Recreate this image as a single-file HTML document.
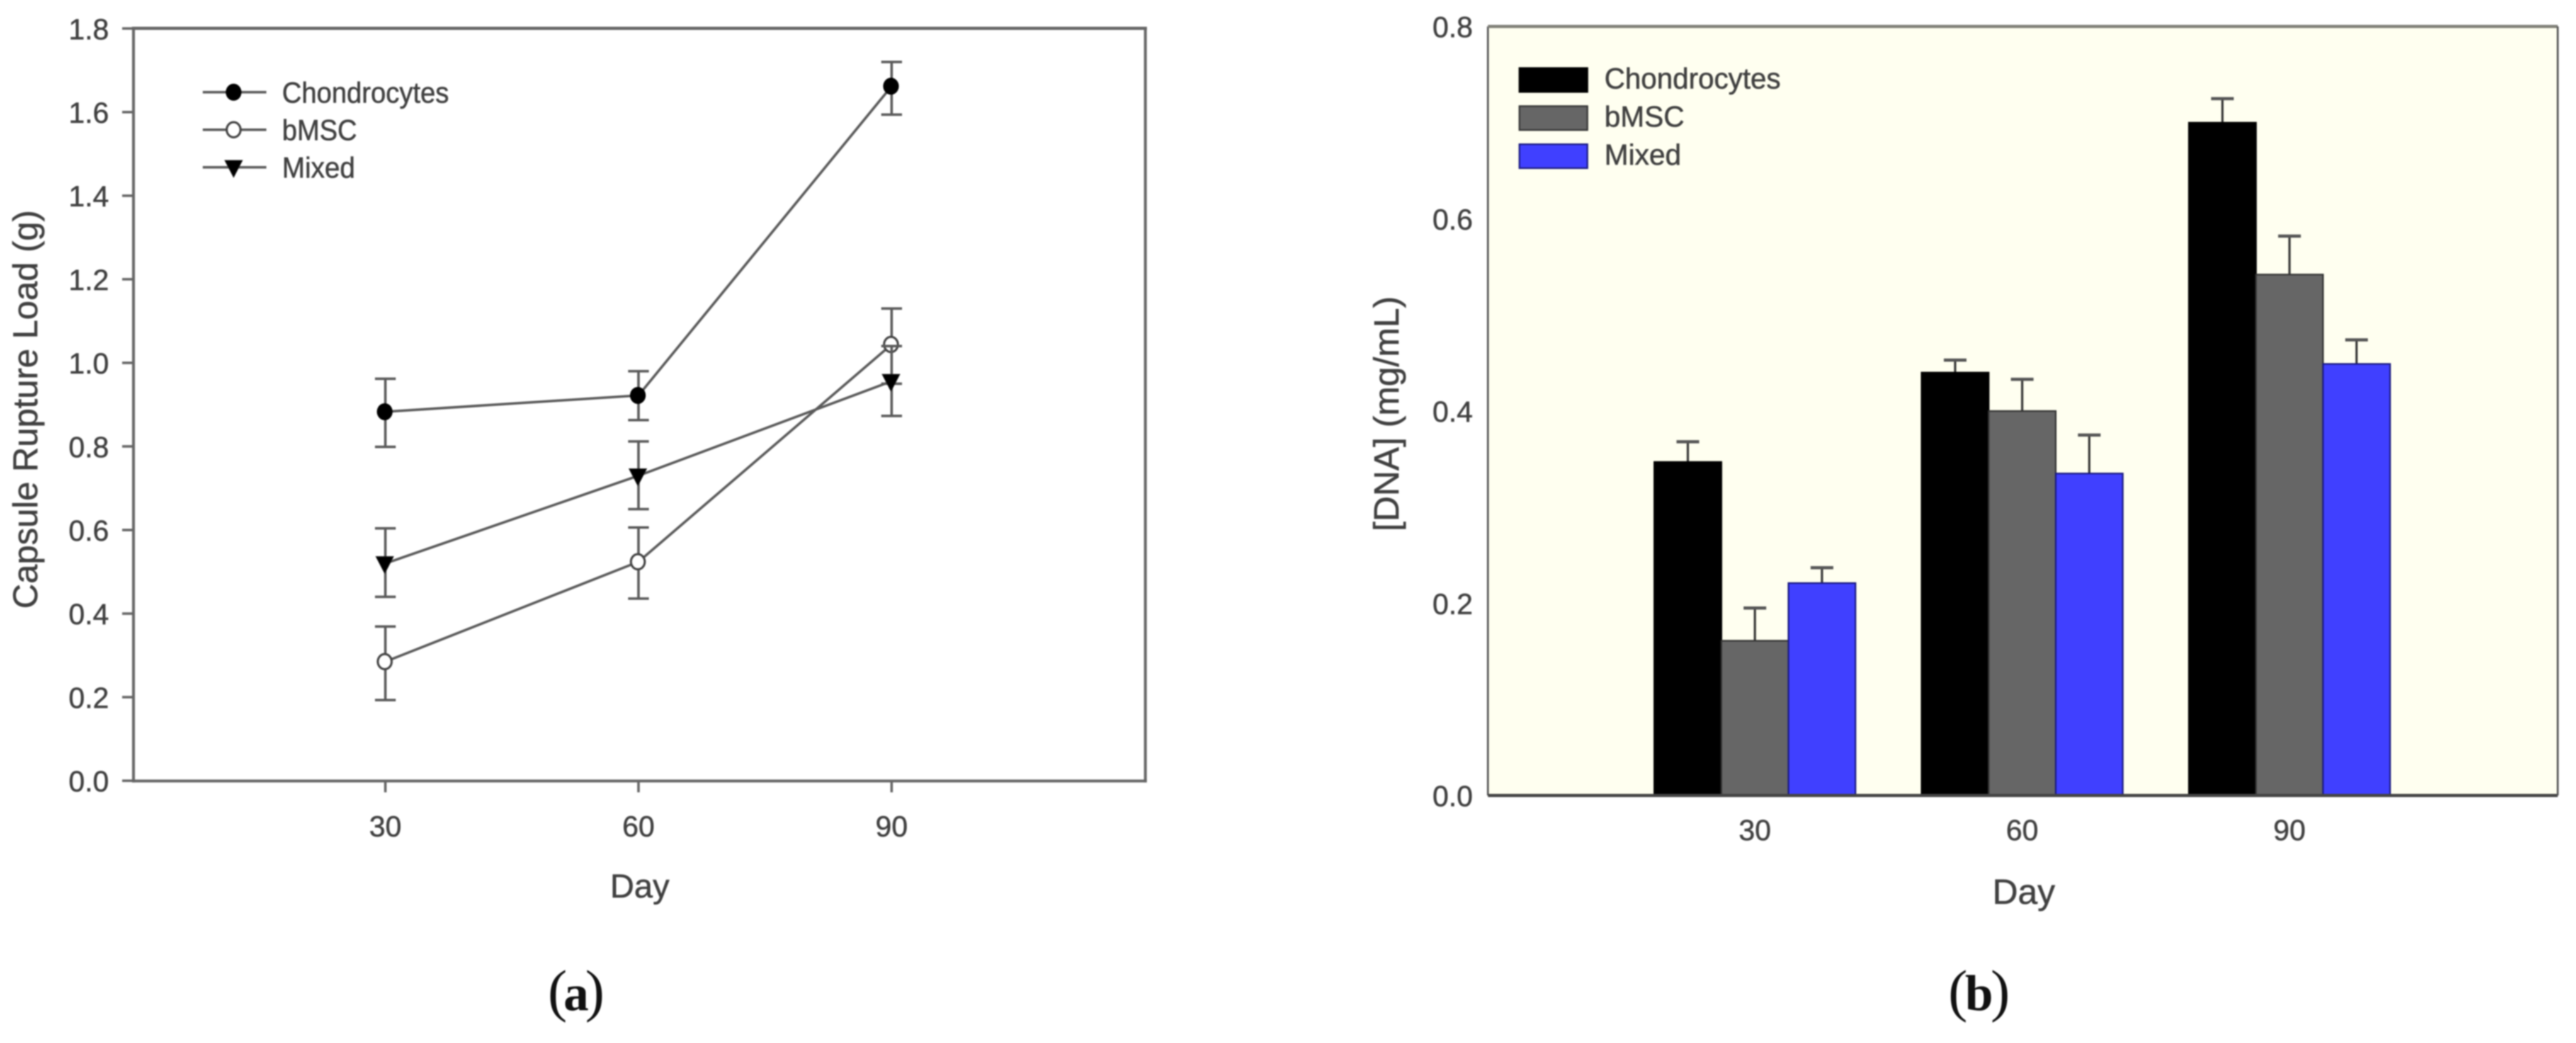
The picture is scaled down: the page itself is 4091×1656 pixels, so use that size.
<!DOCTYPE html>
<html lang="en">
<head>
<meta charset="utf-8">
<title>Capsule rupture load and DNA concentration</title>
<style>
html,body{margin:0;padding:0;background:#fff;width:4091px;height:1656px;overflow:hidden}
svg{display:block;filter:blur(1px)}
text{font-family:"Liberation Sans",Arial,sans-serif;fill:#404040;stroke:#404040;stroke-width:0.6px}
.serif{font-family:"Liberation Serif","Times New Roman",serif;fill:#111;stroke:none}
</style>
</head>
<body>
<svg id="figure" xmlns="http://www.w3.org/2000/svg" width="4091" height="1656" viewBox="0 0 4091 1656">
  <g id="panel-a">
    <rect x="212" y="45" width="1607" height="1195" fill="#fff"/>
    <text transform="translate(59,650) rotate(-90)" text-anchor="middle" font-size="55">Capsule Rupture Load (g)</text>
    <text x="1016" y="1425" text-anchor="middle" font-size="53">Day</text>
    <g id="a-axes"></g>
    <g id="a-series"></g>
    <g id="a-legend"></g>
    <text class="serif" x="870" y="1604" font-size="92" textLength="90" lengthAdjust="spacing">(<tspan font-weight="bold" font-size="80">a</tspan>)</text>
  </g>
  <g id="panel-b">
    <rect x="2363" y="42" width="1699" height="1221" fill="#fffff0"/>
    <text transform="translate(2221,657) rotate(-90)" text-anchor="middle" font-size="56">[DNA] (mg/mL)</text>
    <text x="3214" y="1435" text-anchor="middle" font-size="56">Day</text>
    <g id="b-bars"></g>
    <g id="b-axes"></g>
    <g id="b-legend"></g>
    <text class="serif" x="3094" y="1604" font-size="92" textLength="98" lengthAdjust="spacing">(<tspan font-weight="bold" font-size="80">b</tspan>)</text>
  </g>
</svg>
<script>
// Shared categories
const days = [30, 60, 90];
const seriesNames = ['Chondrocytes', 'bMSC', 'Mixed'];

// Panel (a): capsule rupture load
const loadTicks = ['0.0', '0.2', '0.4', '0.6', '0.8', '1.0', '1.2', '1.4', '1.6', '1.8'];
const loadChondrocytes = [0.883, 0.922, 1.662];
const loadChondrocytesHigh = [0.962, 0.980, 1.720];
const loadChondrocytesLow = [0.799, 0.863, 1.594];
const loadBmsc = [0.285, 0.524, 1.044];
const loadBmscHigh = [0.369, 0.606, 1.130];
const loadBmscLow = [0.193, 0.436, 0.950];
const loadMixed = [0.520, 0.730, 0.956];
const loadMixedHigh = [0.604, 0.812, 1.040];
const loadMixedLow = [0.440, 0.650, 0.873];

// Panel (b): DNA concentration
const dnaTicks = ['0.0', '0.2', '0.4', '0.6', '0.8'];
const dnaChondrocytes = [0.347, 0.440, 0.700];
const dnaChondrocytesHigh = [0.368, 0.453, 0.725];
const dnaBmsc = [0.161, 0.400, 0.542];
const dnaBmscHigh = [0.195, 0.433, 0.582];
const dnaMixed = [0.221, 0.335, 0.449];
const dnaMixedHigh = [0.237, 0.375, 0.474];

const SVGNS = 'http://www.w3.org/2000/svg';
function mk(parent, tag, attrs, txt) {
  const e = document.createElementNS(SVGNS, tag);
  for (const k in attrs) e.setAttribute(k, attrs[k]);
  if (txt !== undefined) e.textContent = txt;
  parent.appendChild(e);
  return e;
}

// Axis functions
const xA = d => 210 + 13.4 * d;
const yA = v => 1239.6 - 663.5 * v;
const xB = d => 2362.5 + 14.15 * d;
const yB = v => 1263 - 1526 * v;

/* ---------- Panel (a) axes ---------- */
const aAxes = document.getElementById('a-axes');
const aFrameStyle = {stroke: '#666', 'stroke-linecap': 'square'};
const aLeft = mk(aAxes, 'line', {x1: 212, y1: 45, x2: 212, y2: 1240, 'stroke-width': 4.5, ...aFrameStyle});


const aBottom = mk(aAxes, 'line', {x1: 212, y1: 1240, x2: 1819, y2: 1240, 'stroke-width': 4.5, ...aFrameStyle});


const aTop = mk(aAxes, 'line', {x1: 212, y1: 45, x2: 1819, y2: 45, 'stroke-width': 5, ...aFrameStyle});


const aRight = mk(aAxes, 'line', {x1: 1819, y1: 45, x2: 1819, y2: 1240, 'stroke-width': 4.5, ...aFrameStyle});



loadTicks.forEach(t => {
  const y = yA(parseFloat(t));
  const tk = mk(aAxes, 'line', {x1: 194, y1: y, x2: 212, y2: y, stroke: '#666', 'stroke-width': 4});
  
  
  const lb = mk(aAxes, 'text', {x: 173, y: y + 17, 'text-anchor': 'end', 'font-size': 46}, t);
  
  
});
days.forEach(d => {
  const x = xA(d);
  const tk = mk(aAxes, 'line', {x1: x, y1: 1240, x2: x, y2: 1258, stroke: '#666', 'stroke-width': 4});
  
  
  const lb = mk(aAxes, 'text', {x: x, y: 1328, 'text-anchor': 'middle', 'font-size': 46}, String(d));
  
  
});

/* ---------- Panel (a) series ---------- */
function drawMarker(parent, kind, x, y) {
  if (kind === 'Mixed') {
    return mk(parent, 'polygon', {points: `${x - 14},${y - 11} ${x + 14},${y - 11} ${x},${y + 16}`, fill: '#000', stroke: '#222', 'stroke-width': 1});
  }
  if (kind === 'bMSC') {
    return mk(parent, 'ellipse', {cx: x, cy: y, rx: 11, ry: 12, fill: '#fff', stroke: '#444', 'stroke-width': 3.5});
  }
  return mk(parent, 'ellipse', {cx: x, cy: y, rx: 12.5, ry: 13.5, fill: '#000'});
}
const aSeries = document.getElementById('a-series');
const loadValues = [loadChondrocytes, loadBmsc, loadMixed];
const loadHighs = [loadChondrocytesHigh, loadBmscHigh, loadMixedHigh];
const loadLows = [loadChondrocytesLow, loadBmscLow, loadMixedLow];
seriesNames.forEach((name, s) => {
  const key = name.toLowerCase();
  const g = mk(aSeries, 'g', {});
  
  
  const pts = days.map((d, i) => xA(d) + ',' + yA(loadValues[s][i])).join(' ');
  const ln = mk(g, 'polyline', {points: pts, fill: 'none', stroke: '#5a5a5a', 'stroke-width': 4});
  
  
  days.forEach((d, i) => {
    const x = xA(d);
    const yh = yA(loadHighs[s][i]);
    const yl = yA(loadLows[s][i]);
    const eb = mk(g, 'path', {d: `M${x - 16.5} ${yh}H${x + 16.5}M${x} ${yh}V${yl}M${x - 16.5} ${yl}H${x + 16.5}`, fill: 'none', stroke: '#5a5a5a', 'stroke-width': 4});
    
    
    const m = drawMarker(g, name, x - 1, yA(loadValues[s][i]));
    
    
  });
});

/* ---------- Panel (a) legend ---------- */
const aLegend = document.getElementById('a-legend');
const aLegendWidths = [265, 119, 116];
seriesNames.forEach((name, s) => {
  const y = 146.4 + s * 59.6;
  const key = name.toLowerCase();
  const l = mk(aLegend, 'line', {x1: 322, y1: y, x2: 423, y2: y, stroke: '#5a5a5a', 'stroke-width': 4});
  
  
  const m = drawMarker(aLegend, name, 371, y);
  
  
  const t = mk(aLegend, 'text', {x: 448, y: y + 16.6, 'font-size': 46, textLength: aLegendWidths[s], lengthAdjust: 'spacingAndGlyphs'}, name);
  
  
});

/* ---------- Panel (b) bars ---------- */
const barFills = ['#000000', '#666666', '#4040ff'];
const barStrokes = ['#000000', '#333333', '#1a1a80'];
const barWidth = 106.5;
const dnaValues = [dnaChondrocytes, dnaBmsc, dnaMixed];
const dnaHighs = [dnaChondrocytesHigh, dnaBmscHigh, dnaMixedHigh];
const bBars = document.getElementById('b-bars');
seriesNames.forEach((name, s) => {
  const key = name.toLowerCase();
  const g = mk(bBars, 'g', {});
  
  
  days.forEach((d, i) => {
    const cx = xB(d) + (s - 1) * barWidth;
    const yv = yB(dnaValues[s][i]);
    const yh = yB(dnaHighs[s][i]);
    const eb = mk(g, 'path', {d: `M${cx} ${yv}V${yh}`, fill: 'none', stroke: '#333', 'stroke-width': 3.5});
    
    
    const cp = mk(g, 'line', {x1: cx - 18, y1: yh, x2: cx + 18, y2: yh, stroke: '#555', 'stroke-width': 5});
    
    
    const r = mk(g, 'rect', {x: cx - barWidth / 2, y: yv, width: barWidth, height: yB(0) - yv, fill: barFills[s], stroke: barStrokes[s], 'stroke-width': 2.5});
    
    
  });
});

/* ---------- Panel (b) axes ---------- */
const bAxes = document.getElementById('b-axes');
const bLeft = mk(bAxes, 'line', {x1: 2363, y1: 42, x2: 2363, y2: 1263, stroke: '#555', 'stroke-width': 3});


const bBottom = mk(bAxes, 'line', {x1: 2363, y1: 1263, x2: 4062, y2: 1263, stroke: '#444', 'stroke-width': 5});


const bTop = mk(bAxes, 'line', {x1: 2363, y1: 42, x2: 4062, y2: 42, stroke: '#808078', 'stroke-width': 5});


const bRight = mk(bAxes, 'line', {x1: 4062, y1: 42, x2: 4062, y2: 1263, stroke: '#555', 'stroke-width': 3});


dnaTicks.forEach(t => {
  const y = yB(parseFloat(t));
  const lb = mk(bAxes, 'text', {x: 2339, y: y + 17, 'text-anchor': 'end', 'font-size': 46}, t);
  
  
});
days.forEach(d => {
  const lb = mk(bAxes, 'text', {x: xB(d), y: 1334, 'text-anchor': 'middle', 'font-size': 46}, String(d));
  
  
});

/* ---------- Panel (b) legend ---------- */
const bLegend = document.getElementById('b-legend');
const bLegendWidths = [280, 127, 122];
seriesNames.forEach((name, s) => {
  const y = 108 + s * 60.5;
  const key = name.toLowerCase();
  const r = mk(bLegend, 'rect', {x: 2413, y: y, width: 108, height: 38, fill: barFills[s], stroke: barStrokes[s], 'stroke-width': 2.5});
  
  
  const t = mk(bLegend, 'text', {x: 2548, y: y + 32.6, 'font-size': 46, textLength: bLegendWidths[s], lengthAdjust: 'spacingAndGlyphs'}, name);
  
  
});
</script>
</body>
</html>
